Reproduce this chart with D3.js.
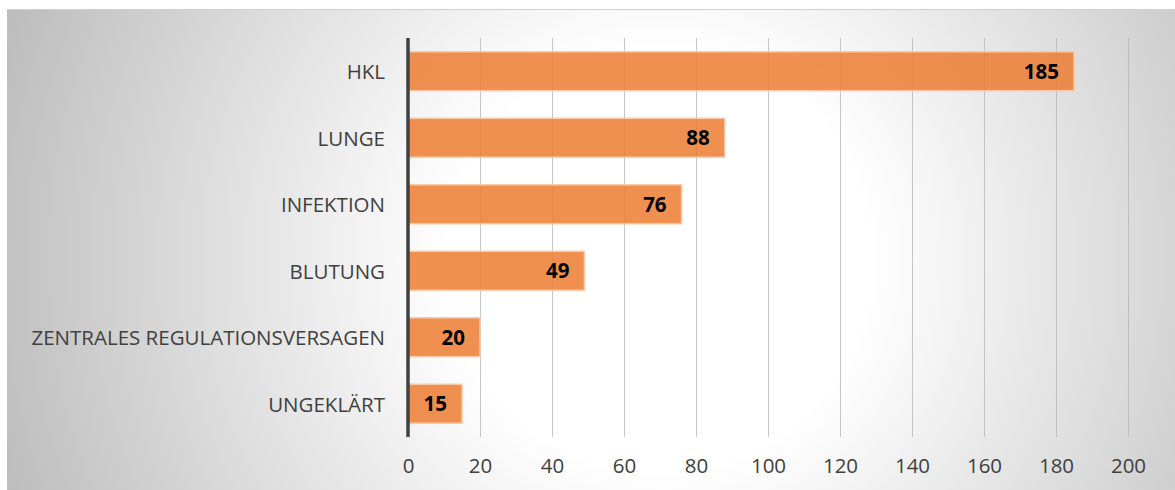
<!DOCTYPE html>
<html>
<head>
<meta charset="utf-8">
<script src="https://cdn.jsdelivr.net/npm/d3@7"></script>
<style>
  html, body { margin: 0; padding: 0; background: #ffffff; }
  svg { display: block; }
</style>
</head>
<body>
<svg id="chart" width="1175" height="490"></svg>
<script>
// Causes and case counts
const categories = ["HKL", "LUNGE", "INFEKTION", "BLUTUNG", "ZENTRALES REGULATIONSVERSAGEN", "UNGEKLÄRT"];
const values = [185, 88, 76, 49, 20, 15];
const tickValues = [0, 20, 40, 60, 80, 100, 120, 140, 160, 180, 200];

const svg = d3.select("#chart");
const W = 1175, H = 490;
const fontFamily = "'Open Sans', 'Noto Sans', sans-serif";

// Background panel with radial shading
const defs = svg.append("defs");
const grad = defs.append("radialGradient")
  .attr("id", "bg")
  .attr("gradientUnits", "userSpaceOnUse")
  .attr("cx", 660).attr("cy", 260).attr("r", 700);
grad.append("stop").attr("offset", "0").attr("stop-color", "#ffffff");
grad.append("stop").attr("offset", "0.3").attr("stop-color", "#ffffff");
grad.append("stop").attr("offset", "1").attr("stop-color", "#bcbcbc");

svg.append("rect")
  .attr("x", 7).attr("y", 9)
  .attr("width", W - 7).attr("height", H - 9)
  .attr("fill", "url(#bg)");
svg.append("line")
  .attr("x1", 7).attr("x2", W).attr("y1", 9.5).attr("y2", 9.5)
  .attr("stroke", "#d0d0d0").attr("stroke-width", 1);

const margin = { left: 408, right: 47, top: 38, bottom: 53 };

const x = d3.scaleLinear()
  .domain([0, 200])
  .range([margin.left, W - margin.right]);

const y = d3.scaleBand()
  .domain(categories)
  .range([margin.top, H - margin.bottom])
  .paddingInner(0.415)
  .paddingOuter(0.2075);

// Vertical gridlines
svg.append("g")
  .selectAll("line")
  .data(tickValues.filter(d => d > 0))
  .join("line")
  .attr("x1", d => Math.round(x(d)) + 0.5)
  .attr("x2", d => Math.round(x(d)) + 0.5)
  .attr("y1", margin.top)
  .attr("y2", H - margin.bottom)
  .attr("stroke", "#b4b4b4")
  .attr("stroke-opacity", 0.75)
  .attr("stroke-width", 1);

// Bars
svg.append("g")
  .selectAll("rect")
  .data(categories)
  .join("rect")
  .attr("x", x(0))
  .attr("y", d => y(d))
  .attr("width", (d, i) => x(values[i]) - x(0))
  .attr("height", y.bandwidth())
  .attr("fill", "#ED7D31")
  .attr("fill-opacity", 0.85)
  .attr("stroke", "#f8c9a6")
  .attr("stroke-width", 1.5);

// Value labels inside bar ends
svg.append("g")
  .selectAll("text")
  .data(categories)
  .join("text")
  .attr("x", (d, i) => x(values[i]) - 15)
  .attr("y", d => y(d) + y.bandwidth() / 2)
  .attr("dy", "0.36em")
  .attr("text-anchor", "end")
  .attr("font-family", fontFamily)
  .attr("font-weight", 700)
  .attr("font-size", 20.5)
  .attr("fill", "#000000")
  .text((d, i) => values[i]);

// Category axis
const yAxis = svg.append("g")
  .attr("transform", `translate(${x(0)},0)`)
  .call(d3.axisLeft(y).tickSize(0).tickPadding(23));
yAxis.select(".domain")
  .attr("stroke", "#404040")
  .attr("stroke-width", 3.5)
  .attr("d", `M0,${margin.top}V${H - margin.bottom}`);
yAxis.selectAll("text")
  .attr("font-family", fontFamily)
  .attr("font-size", 20.5)
  .attr("dy", "0.4em")
  .attr("fill", "#404040");

// Value axis labels
const xAxis = svg.append("g")
  .attr("transform", `translate(0,${H - margin.bottom})`)
  .call(d3.axisBottom(x).tickValues(tickValues).tickSize(0).tickPadding(21));
xAxis.select(".domain").remove();
xAxis.selectAll("text")
  .attr("font-family", fontFamily)
  .attr("font-size", 20.5)
  .attr("fill", "#404040");
</script>
</body>
</html>
